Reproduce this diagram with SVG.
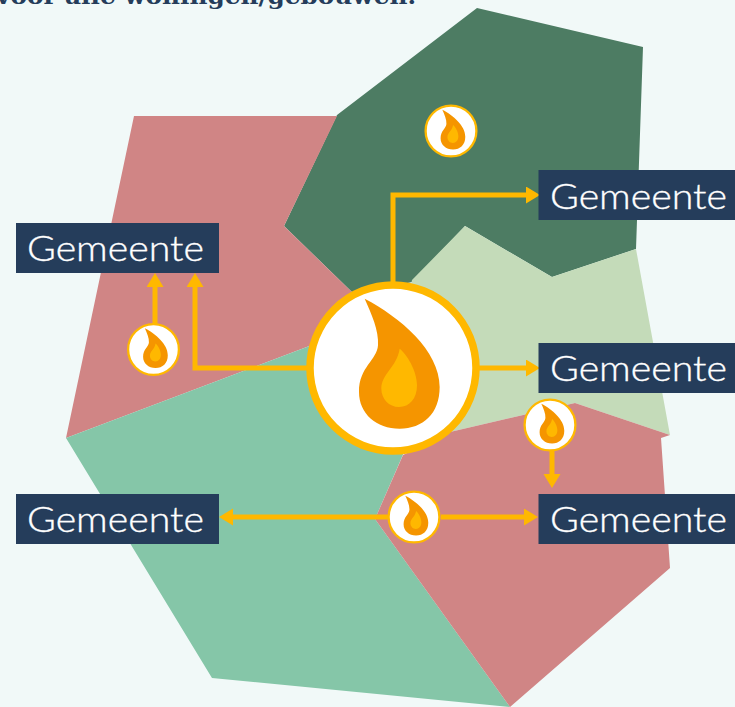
<svg xmlns="http://www.w3.org/2000/svg" xmlns:xlink="http://www.w3.org/1999/xlink" width="735" height="707" viewBox="0 0 735 707">
<style>
.box{fill:#253d5b}
.lbl{fill:#fff;stroke:#fff;stroke-width:.35;font-family:"Lato","Open Sans",sans-serif;font-weight:300;font-size:35px}
.con{fill:none;stroke:#ffb800;stroke-width:5}
.head{font-family:"DejaVu Serif","Liberation Serif",serif;font-weight:bold;font-size:23px;fill:#253d5b}
</style>
<defs>
<marker id="arr" markerUnits="userSpaceOnUse" markerWidth="14" markerHeight="18" refX="0" refY="8.5" orient="auto"><path d="M0 0L14 8.5L0 17Z" fill="#ffb800"/></marker>
<g id="badge">
<circle r="83" fill="#fff" stroke="#ffb800" stroke-width="7.5"/>
<g transform="scale(.3333) translate(-310 -293)">
<path fill="#f59500" d="M225 85C330 140 450 240 450 350C450 430 400 475 330 475C260 475 208 430 208 365C208 290 262 270 265 225C268 180 245 130 225 85Z"/>
<path fill="#ffb800" d="M330 235C350 250 382 300 382 345C382 385 360 410 328 410C298 410 275 385 275 355C275 310 322 290 330 235Z"/>
</g>
</g>
</defs>
<rect width="735" height="707" fill="#f1f9f8"/>
<text class="head" x="-4" y="4" textLength="420" lengthAdjust="spacingAndGlyphs">voor alle woningen/gebouwen.</text>
<g id="regions">
<polygon fill="#4d7c63" points="477,8 643,47 636,249 552,277 465,226 412,282 355,295 284,226 337,115"/>
<polygon fill="#d08585" points="134,116 337,116 284,226 355,295 393,368 312,345 66,438"/>
<polygon fill="#c4dbb9" points="465,226 552,277 636,249 670,435 575,403 450,432 393,368 412,280"/>
<polygon fill="#85c6a8" points="66,438 312,345 393,368 405,450 375,519 510,707 212,678"/>
<polygon fill="#d08585" points="575,403 670,435 661,438 670,568 510,707 375,519 403,455 450,432"/>
</g>
<g id="connectors">
<path class="con" marker-end="url(#arr)" d="M393 285V195H526"/>
<path class="con" marker-end="url(#arr)" d="M478 368H526"/>
<path class="con" marker-end="url(#arr)" d="M308 368H195V287"/>
<path class="con" marker-end="url(#arr)" d="M155 325V287"/>
<path class="con" marker-end="url(#arr)" d="M552 450V474"/>
<path class="con" marker-end="url(#arr)" d="M441 517H524"/>
<path class="con" marker-end="url(#arr)" d="M388 517H233"/>
</g>
<g id="source"><use xlink:href="#badge" href="#badge" transform="translate(393 368)"/></g>
<g id="badge-1"><use xlink:href="#badge" href="#badge" transform="translate(451 131) scale(.306)"/></g>
<g id="badge-2"><use xlink:href="#badge" href="#badge" transform="translate(153.5 349.5) scale(.306)"/></g>
<g id="badge-3"><use xlink:href="#badge" href="#badge" transform="translate(550 425) scale(.306)"/></g>
<g id="badge-4"><use xlink:href="#badge" href="#badge" transform="translate(414 517) scale(.306)"/></g>
<g id="gemeente-1"><rect class="box" x="16" y="223" width="203" height="50"/><text class="lbl" x="27" y="261" textLength="177" lengthAdjust="spacingAndGlyphs">Gemeente</text></g>
<g id="gemeente-2"><rect class="box" x="538.500" y="170" width="197" height="50"/><text class="lbl" x="550" y="209" textLength="177" lengthAdjust="spacingAndGlyphs">Gemeente</text></g>
<g id="gemeente-3"><rect class="box" x="538.500" y="343" width="197" height="50"/><text class="lbl" x="550" y="381" textLength="177" lengthAdjust="spacingAndGlyphs">Gemeente</text></g>
<g id="gemeente-4"><rect class="box" x="16" y="494" width="203" height="50"/><text class="lbl" x="27" y="532" textLength="177" lengthAdjust="spacingAndGlyphs">Gemeente</text></g>
<g id="gemeente-5"><rect class="box" x="538.500" y="494" width="197" height="50"/><text class="lbl" x="550" y="532" textLength="177" lengthAdjust="spacingAndGlyphs">Gemeente</text></g>
</svg>
